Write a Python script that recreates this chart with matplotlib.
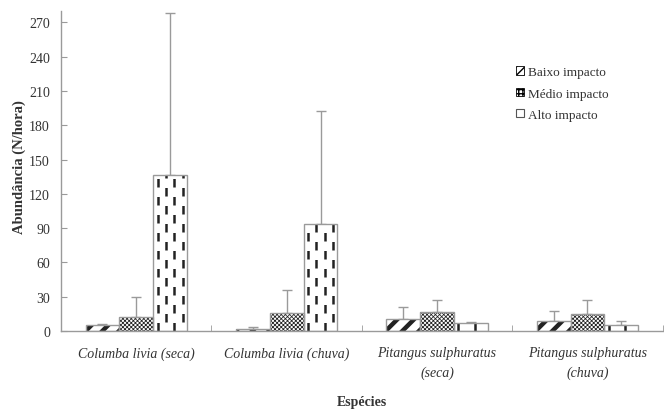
import numpy as np
import matplotlib.pyplot as plt
from matplotlib.patches import Patch

plt.rcParams['font.family'] = ['Liberation Serif', 'DejaVu Serif']

especies = ['Columba livia (seca)', 'Columba livia (chuva)',
            'Pitangus sulphuratus\n(seca)', 'Pitangus sulphuratus\n(chuva)']
series = ['Baixo impacto', 'Médio impacto', 'Alto impacto']

baixo = [5.0, 1.7, 11.0, 9.2]
medio = [12.5, 16.0, 16.8, 14.6]
alto = [136.5, 93.5, 7.3, 5.6]

baixo_err = [1.0, 1.5, 10.0, 8.3]
medio_err = [17.0, 19.8, 10.0, 12.2]
alto_err = [142.0, 99.0, 0.3, 2.9]

yticks = [0, 30, 60, 90, 120, 150, 180, 210, 240, 270]

edge_grey = '#9a9a9a'

fig = plt.figure(figsize=(6.64, 4.10), dpi=100)
ax = fig.add_axes([0.092, 0.19, 0.906, 0.781])

x = np.arange(len(especies))
w = 0.225
offsets = [-w, 0, w]
values = [baixo, medio, alto]
errors = [baixo_err, medio_err, alto_err]
hatches = ['//', 'xxxxxxxx', None]
hatch_lw = [3.2, 0.55, 1.0]

for i in range(3):
    pos = x + offsets[i]
    # hatch layer (hatch colour follows the edge colour)
    bars = ax.bar(pos, values[i], w, color='white', edgecolor='#222222',
                  linewidth=0, hatch=hatches[i], zorder=2)
    for b in bars:
        if hasattr(b, 'set_hatch_linewidth'):
            b.set_hatch_linewidth(hatch_lw[i])
    # outline layer
    ax.bar(pos, values[i], w, fill=False, edgecolor=edge_grey,
           linewidth=1.0, zorder=3)
    ax.errorbar(pos, values[i], yerr=[np.zeros(len(pos)), errors[i]],
                fmt='none', ecolor=edge_grey, elinewidth=1.0, capsize=3.5,
                capthick=1.0, zorder=1)
    if i == 2:
        # staggered vertical dashes inside the high-impact bars
        for b in bars:
            bx, bw, bh = b.get_x(), b.get_width(), b.get_height()
            for k, frac in enumerate([0.13, 0.38, 0.62, 0.87]):
                ln, = ax.plot([bx + frac * bw] * 2, [0, bh], color='#222222',
                              lw=1.8, zorder=2.5, solid_capstyle='butt',
                              dash_capstyle='butt')
                ln.set_dashes((3.4, 3.8) if k % 2 == 0 else (0, 3.6, 3.4, 0.2))
                ln.set_clip_path(b)

ax.set_xlim(-0.5, len(especies) - 0.5)
ax.set_ylim(0, 280)
ax.set_yticks(yticks)
ax.set_xticks(x)
ax.set_xticklabels(especies, fontsize=10, style='italic', color='#333333',
                   linespacing=1.6)
ax.set_xticks(np.arange(len(especies)) + 0.5, minor=True)
ax.tick_params(axis='x', which='major', length=0, pad=11)
ax.tick_params(axis='x', which='minor', direction='in', length=4,
               color=edge_grey)
ax.tick_params(axis='y', direction='in', length=4, color=edge_grey,
               labelsize=10, labelcolor='#333333', pad=8)

for s in ['top', 'right']:
    ax.spines[s].set_visible(False)
for s in ['left', 'bottom']:
    ax.spines[s].set_color(edge_grey)
    ax.spines[s].set_linewidth(1.0)

ax.set_ylabel('Abundância (N/hora)', fontsize=10.5, fontweight='bold',
              color='#333333')
ax.yaxis.set_label_coords(-0.058, 0.515)
ax.set_xlabel('Espécies', fontsize=10, fontweight='bold', color='#333333',
              va='center')
ax.xaxis.set_label_coords(0.5, -0.219)

handles = [Patch(facecolor='white', edgecolor='black', hatch='////', lw=0.6),
           Patch(facecolor='white', edgecolor='black', hatch='++++', lw=0.6),
           Patch(facecolor='white', edgecolor='#555555', lw=0.8)]
leg = ax.legend(handles, series, loc='upper left',
                bbox_to_anchor=(0.736, 0.864), frameon=False, fontsize=9.5,
                handlelength=0.6, handleheight=0.6, handletextpad=0.3,
                labelspacing=0.7)
for t in leg.get_texts():
    t.set_color('#333333')

fig.savefig('out.png', dpi=100)
